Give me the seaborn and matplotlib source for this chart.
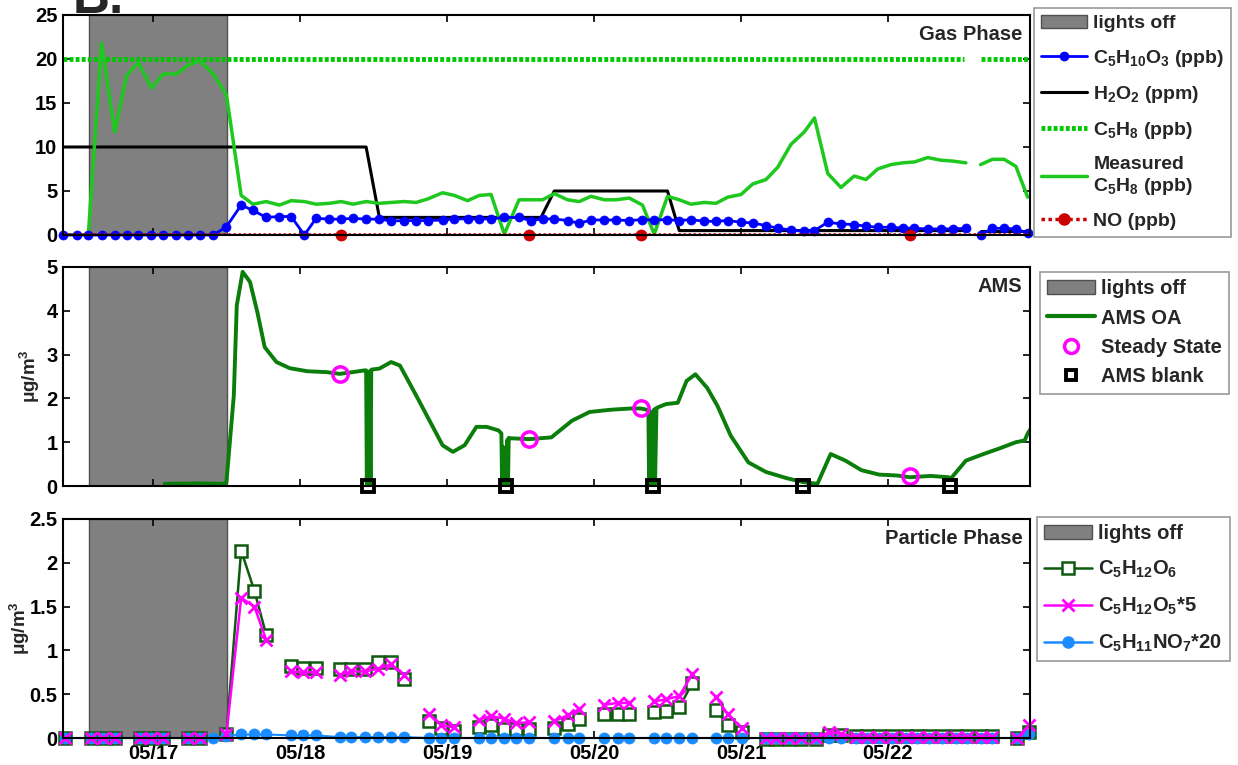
import numpy as np
import pandas as pd
import seaborn as sns
import matplotlib.pyplot as plt
from matplotlib.lines import Line2D
from matplotlib.patches import Patch
from matplotlib.ticker import FormatStrFormatter

sns.set_theme(style='ticks')
plt.rcParams['font.family'] = ['Liberation Sans', 'DejaVu Sans']
plt.rcParams['font.weight'] = 'bold'
plt.rcParams['axes.labelweight'] = 'bold'
plt.rcParams['mathtext.fontset'] = 'custom'
plt.rcParams['mathtext.rm'] = 'Liberation Sans:bold'
plt.rcParams['mathtext.bf'] = 'Liberation Sans:bold'
plt.rcParams['mathtext.it'] = 'Liberation Sans:bold'
plt.rcParams['mathtext.default'] = 'bf'

nan = np.nan

# time axis: day of May
lights_off = (16.565, 17.503)
day_ticks = [17, 18, 19, 20, 21, 22]
day_labels = ['05/17', '05/18', '05/19', '05/20', '05/21', '05/22']

# ---- gas phase (2-hourly) ----
t_gas = [16.39, 16.48, 16.56, 16.65, 16.74, 16.82, 16.90, 16.99, 17.07, 17.16,
         17.24, 17.32, 17.41, 17.50, 17.60, 17.68, 17.77, 17.86, 17.94, 18.03,
         18.11, 18.20, 18.28, 18.36, 18.45, 18.54, 18.62, 18.71, 18.79, 18.87,
         18.97, 19.05, 19.14, 19.22, 19.30, 19.39, 19.49, 19.57, 19.65, 19.73,
         19.82, 19.90, 19.98, 20.07, 20.15, 20.24, 20.33, 20.41, 20.50, 20.58,
         20.66, 20.75, 20.83, 20.91, 21.00, 21.08, 21.17, 21.25, 21.34, 21.43,
         21.50, 21.59, 21.68, 21.77, 21.85, 21.93, 22.02, 22.10, 22.18, 22.27,
         22.36, 22.44, 22.53, 22.58, 22.63, 22.71, 22.79, 22.87, 22.95]
c5h8_meas = [0, 0, 0, 21.8, 11.7, 18.1, 19.6, 16.7, 18.3, 18.3,
             19.3, 19.8, 18.3, 15.9, 4.5, 3.5, 3.8, 3.4, 3.9, 3.8,
             3.5, 3.6, 3.8, 3.5, 3.8, 3.6, 3.7, 3.8, 3.7, 4.1,
             4.8, 4.5, 3.9, 4.5, 4.6, 0.1, 4.0, 4.0, 4.0, 4.7,
             4.0, 3.8, 4.4, 4.0, 4.0, 4.2, 3.4, 0.1, 4.4, 4.0,
             3.5, 3.7, 3.6, 4.3, 4.6, 5.8, 6.3, 7.7, 10.3, 11.7,
             13.3, 7.0, 5.4, 6.7, 6.3, 7.5, 8.0, 8.2, 8.3, 8.8,
             8.5, 8.4, 8.2, nan, 8.0, 8.6, 8.6, 7.8, 4.3]
c5h10o3 = [0, 0, 0, 0, 0, 0, 0, 0, 0, 0,
           0, 0, 0, 0.95, 3.4, 2.8, 2.0, 2.1, 2.1, 0,
           1.9, 1.8, 1.8, 1.9, 1.8, 1.8, 1.6, 1.64, 1.64, 1.64,
           1.7, 1.83, 1.83, 1.83, 1.83, 2.0, 2.0, 1.64, 1.83, 1.83,
           1.64, 1.33, 1.71, 1.71, 1.71, 1.64, 1.75, 1.71, 1.75, 1.64,
           1.75, 1.56, 1.56, 1.64, 1.45, 1.37, 1.07, 0.76, 0.57, 0.42,
           0.5, 1.45, 1.26, 1.18, 1.0, 0.88, 0.88, 0.8, 0.76, 0.69,
           0.69, 0.69, 0.76, nan, 0.0, 0.76, 0.76, 0.69, 0.2]
h2o2_t = [16.39, 18.45, 18.54, 19.64, 19.73, 20.50, 20.58, 22.52, 22.58, 22.63, 22.97]
h2o2_v = [10, 10, 2, 2, 5, 5, 0.5, 0.5, nan, 0.5, 0.5]
c5h8_t = [16.39, 22.52, 22.58, 22.63, 22.97]
c5h8_v = [20, 20, nan, 20, 20]
no_t = [16.39, 22.97]
no_v = [0.15, 0.15]
no_pts_t = [18.28, 19.56, 20.32, 22.15]
no_pts_v = [0, 0, 0, 0]

# ---- AMS ----
t_ams = [17.08, 17.30, 17.49, 17.50, 17.55, 17.57, 17.61, 17.66, 17.71, 17.76,
         17.84, 17.93, 18.05, 18.18, 18.27, 18.36, 18.44,
         18.45, 18.455, 18.46, 18.465, 18.47, 18.475, 18.48, 18.485, 18.49,
         18.54, 18.62, 18.68, 18.79, 18.91, 18.97, 19.04, 19.12, 19.20, 19.27, 19.35,
         19.37, 19.375, 19.38, 19.385, 19.40, 19.41, 19.415, 19.42,
         19.43, 19.56, 19.71, 19.85, 19.97, 20.11, 20.25, 20.32, 20.36,
         20.37, 20.375, 20.385, 20.39, 20.40, 20.41, 20.415, 20.425,
         20.43, 20.49, 20.57, 20.63, 20.69, 20.77, 20.84, 20.93, 21.05, 21.17,
         21.31, 21.42, 21.52, 21.61, 21.71, 21.82, 21.94, 22.06, 22.15, 22.29,
         22.41, 22.43, 22.53, 22.65, 22.76, 22.87, 22.93, 22.95, 22.97]
ams_oa = [0.05, 0.06, 0.05, 0.1, 2.07, 4.12, 4.89, 4.66, 3.97, 3.17,
          2.83, 2.69, 2.62, 2.60, 2.56, 2.60, 2.64,
          2.64, 0, 2.6, 0, 0, 2.62, 0, 2.65, 2.66,
          2.68, 2.83, 2.75, 2.07, 1.31, 0.93, 0.78, 0.93, 1.35, 1.35, 1.27,
          1.2, 0, 0.9, 0, 0, 1.05, 0, 1.1,
          1.09, 1.07, 1.11, 1.49, 1.69, 1.74, 1.77, 1.77, 1.74,
          1.74, 0, 1.7, 0, 0, 1.75, 0, 1.78,
          1.79, 1.87, 1.90, 2.40, 2.55, 2.24, 1.83, 1.15, 0.54, 0.32,
          0.18, 0.09, 0.05, 0.73, 0.58, 0.36, 0.26, 0.24, 0.20, 0.23,
          0.20, 0.18, 0.58, 0.73, 0.86, 1.0, 1.04, 1.2, 1.3]
steady_t = [18.27, 19.56, 20.32, 22.15]
steady_v = [2.56, 1.07, 1.77, 0.22]
blank_t = [18.46, 19.40, 20.40, 21.42, 22.42]
blank_v = [0, 0, 0, 0, 0]

# ---- particle phase ----
t_pp = [16.40,
        16.58, 16.66, 16.74,
        16.91, 16.99, 17.07,
        17.24, 17.32,
        17.50, 17.60, 17.69, 17.77,
        17.94, 18.02, 18.11,
        18.27, 18.35, 18.44, 18.53, 18.62, 18.71,
        18.88, 18.96, 19.05,
        19.22, 19.30, 19.39, 19.47, 19.56,
        19.73, 19.82, 19.90,
        20.07, 20.16, 20.24,
        20.41, 20.49, 20.58, 20.67,
        20.83, 20.91, 21.01,
        21.17, 21.24, 21.33, 21.41, 21.51, 21.60, 21.68, 21.78, 21.86, 21.94,
        22.03, 22.12, 22.20, 22.28, 22.37, 22.46, 22.54, 22.63, 22.71,
        22.88, 22.96]
pp_group = [1, 2, 2, 2, 3, 3, 3, 4, 4, 5, 5, 5, 5, 6, 6, 6,
            7, 7, 7, 7, 7, 7, 8, 8, 8, 9, 9, 9, 9, 9, 10, 10, 10,
            11, 11, 11, 12, 12, 12, 12, 13, 13, 13,
            14, 14, 14, 14, 14, 14, 14, 14, 14, 14,
            14, 14, 14, 14, 14, 14, 14, 14, 14, 15, 15]
c5h12o6 = [0,
           0, 0, 0,
           0, 0, 0,
           0, 0,
           0.05, 2.14, 1.68, 1.18,
           0.82, 0.80, 0.80,
           0.79, 0.79, 0.79, 0.87, 0.87, 0.67,
           0.19, 0.11, 0.08,
           0.13, 0.15, 0.10, 0.10, 0.10,
           0.11, 0.16, 0.22,
           0.27, 0.27, 0.27,
           0.30, 0.31, 0.35, 0.63,
           0.32, 0.15, 0.07,
           -0.01, -0.01, -0.01, -0.01, -0.01, 0.03, 0.03, 0.02, 0.02, 0.02,
           0.02, 0.02, 0.02, 0.02, 0.02, 0.02, 0.02, 0.02, 0.02,
           0, 0.07]
c5h12o5_x5 = [0,
              0, 0, 0,
              0, 0, 0,
              0, 0,
              0.05, 1.60, 1.50, 1.12,
              0.76, 0.75, 0.75,
              0.72, 0.76, 0.76, 0.79, 0.84, 0.72,
              0.27, 0.15, 0.12,
              0.21, 0.25, 0.22, 0.17, 0.18,
              0.19, 0.26, 0.33,
              0.38, 0.40, 0.40,
              0.42, 0.44, 0.48, 0.73,
              0.47, 0.27, 0.11,
              0, 0, 0, 0, 0, 0.07, 0.05, 0.01, 0.01, 0.01,
              0.01, 0.01, 0.01, 0.01, 0.01, 0.01, 0.01, 0.01, 0.01,
              0, 0.15]
t_no7 = [16.40, 16.58, 16.66, 16.74, 16.91, 16.99, 17.07, 17.24, 17.32, 17.41,
         17.50, 17.60, 17.69, 17.77, 17.94, 18.02, 18.11,
         18.27, 18.35, 18.44, 18.53, 18.62, 18.71, 18.88, 18.96, 19.05,
         19.22, 19.30, 19.39, 19.47, 19.56, 19.73, 19.82, 19.90,
         20.07, 20.16, 20.24, 20.41, 20.49, 20.58, 20.67, 20.83, 20.91, 21.01,
         21.17, 21.24, 21.33, 21.41, 21.51, 21.60, 21.68, 21.78, 21.86, 21.94,
         22.03, 22.12, 22.20, 22.28, 22.37, 22.46, 22.54, 22.63, 22.71,
         22.88, 22.96]
c5h11no7_x20 = [0, 0, 0, 0, 0, 0, 0, 0, 0, 0,
                0.02, 0.04, 0.04, 0.04, 0.03, 0.03, 0.03,
                0.01, 0.01, 0.01, 0.01, 0.01, 0.01, 0, 0, 0,
                0, 0, 0, 0, 0, 0, 0, 0,
                0, 0, 0, 0, 0, 0, 0, 0, 0, 0,
                0, 0, 0, 0, 0, 0, 0, 0, 0, 0,
                0, 0, 0, 0, 0, 0, 0, 0, 0,
                0, 0.05]

GRAY = '#808080'
BLUE = '#0000ff'
MGREEN = '#1ec81e'
DGREEN = '#00c800'
AMSGREEN = '#0a7d0a'
SQGREEN = '#0e5a0e'
MAGENTA = '#ff00ff'
LBLUE = '#1a8cff'
RED = '#cc0000'


def seg_frame(t, v, group=None):
    df = pd.DataFrame({'t': t, 'v': v})
    if group is None:
        df['seg'] = df['v'].isna().cumsum()
    else:
        df['seg'] = group
    return df.dropna()


fig = plt.figure(figsize=(12.38, 7.65), dpi=100)
L, W = 63 / 1238, 967 / 1238
ax1 = fig.add_axes([L, 1 - 235 / 765, W, 220 / 765])
ax2 = fig.add_axes([L, 1 - 486 / 765, W, 219 / 765])
ax3 = fig.add_axes([L, 1 - 738 / 765, W, 219 / 765])

for ax in (ax1, ax2, ax3):
    ax.axvspan(*lights_off, facecolor=GRAY, edgecolor='#505050', lw=1, zorder=0)

# gas phase
sns.lineplot(data=seg_frame(c5h8_t, c5h8_v), x='t', y='v', units='seg', estimator=None,
             sort=False, ax=ax1, color=DGREEN, lw=3.5, linestyle=(0, (0.8, 0.45)),
             dash_capstyle='butt', legend=False)
sns.lineplot(data=seg_frame(h2o2_t, h2o2_v), x='t', y='v', units='seg', estimator=None,
             sort=False, ax=ax1, color='black', lw=2.2, legend=False)
sns.lineplot(data=seg_frame(t_gas, c5h8_meas), x='t', y='v', units='seg', estimator=None,
             sort=False, ax=ax1, color=MGREEN, lw=2.5, legend=False)
sns.lineplot(data=seg_frame(t_gas, c5h10o3), x='t', y='v', units='seg', estimator=None,
             sort=False, ax=ax1, color=BLUE, lw=2, marker='o', markersize=6.5,
             markerfacecolor=BLUE, markeredgecolor=BLUE, markeredgewidth=0.5,
             clip_on=False, legend=False)
sns.lineplot(x=no_t, y=no_v, ax=ax1, color=RED, lw=1.8, linestyle=(0, (1, 1)), legend=False)
sns.lineplot(x=no_pts_t, y=no_pts_v, ax=ax1, color=RED, linestyle='none', marker='o',
             markersize=8, markerfacecolor=RED, markeredgecolor=RED, markeredgewidth=0.5,
             clip_on=False, legend=False, zorder=5)

# AMS
sns.lineplot(x=t_ams, y=ams_oa, sort=False, estimator=None, ax=ax2, color=AMSGREEN,
             lw=2.8, legend=False)
sns.lineplot(x=steady_t, y=steady_v, ax=ax2, linestyle='none', marker='o', markersize=11,
             markerfacecolor='none', markeredgecolor=MAGENTA, markeredgewidth=2.5,
             legend=False, zorder=5)
sns.lineplot(x=blank_t, y=blank_v, ax=ax2, linestyle='none', marker='s', markersize=8.5,
             markerfacecolor='none', markeredgecolor='black', markeredgewidth=2.8,
             clip_on=False, legend=False, zorder=5)

# particle phase
sns.lineplot(data=seg_frame(t_pp, c5h12o6, pp_group), x='t', y='v', units='seg',
             estimator=None, sort=False, ax=ax3, color=SQGREEN, lw=1.8, marker='s',
             markersize=9, markerfacecolor='white', markeredgecolor=SQGREEN,
             markeredgewidth=1.8, clip_on=False, legend=False)
sns.lineplot(x=t_no7, y=c5h11no7_x20, sort=False, estimator=None, ax=ax3, color=LBLUE,
             lw=1.5, marker='o', markersize=8, markerfacecolor=LBLUE,
             markeredgecolor=LBLUE, markeredgewidth=0.5, clip_on=False, legend=False)
sns.lineplot(data=seg_frame(t_pp, c5h12o5_x5, pp_group), x='t', y='v', units='seg',
             estimator=None, sort=False, ax=ax3, color=MAGENTA, lw=1.8, marker='x',
             markersize=8, markeredgecolor=MAGENTA, markeredgewidth=2,
             clip_on=False, legend=False)

limits = [(0, 25, [0, 5, 10, 15, 20, 25]), (0, 5, [0, 1, 2, 3, 4, 5]),
          (0, 2.5, [0, 0.5, 1, 1.5, 2, 2.5])]
for ax, (lo, hi, yt) in zip((ax1, ax2, ax3), limits):
    ax.set_xlim(16.388, 22.966)
    ax.set_ylim(lo, hi)
    ax.set_yticks(yt)
    ax.yaxis.set_major_formatter(FormatStrFormatter('%g'))
    ax.set_xticks(day_ticks)
    ax.set_xticklabels(day_labels)
    ax.set_xlabel('')
    ax.set_ylabel('')
    ax.tick_params(direction='in', length=5, width=1.2, top=True, right=True,
                   labelsize=14.5, pad=4, colors='black')
    for s in ax.spines.values():
        s.set_color('black')
        s.set_linewidth(1.5)
        s.set_zorder(6)
    ax.set_facecolor('white')

ax1.tick_params(labelbottom=False)
ax2.tick_params(labelbottom=False)
ax2.set_ylabel('μg/m$^3$', fontsize=13.5, labelpad=3)
ax3.set_ylabel('μg/m$^3$', fontsize=13.5, labelpad=-2)

ax1.text(0.992, 0.955, 'Gas Phase', transform=ax1.transAxes, ha='right', va='top', fontsize=14.5)
ax2.text(0.992, 0.955, 'AMS', transform=ax2.transAxes, ha='right', va='top', fontsize=14.5)
ax3.text(0.992, 0.955, 'Particle Phase', transform=ax3.transAxes, ha='right', va='top', fontsize=14.5)

fig.text(73 / 1238, 1 - 13 / 765, 'B.', fontsize=37, fontweight='bold', va='baseline')

lights = Patch(facecolor=GRAY, edgecolor='#505050')
legkw = dict(loc='upper left', bbox_transform=fig.transFigure, frameon=True, fancybox=False,
             edgecolor=GRAY, borderaxespad=0, handletextpad=0.3, borderpad=0.35,
             handlelength=2.4)

h1 = [lights,
      Line2D([], [], color=BLUE, lw=2, marker='o', ms=6),
      Line2D([], [], color='black', lw=2.2),
      Line2D([], [], color=DGREEN, lw=3.5, linestyle=(0, (0.8, 0.45)), dash_capstyle='butt'),
      Line2D([], [], color=MGREEN, lw=2.5),
      Line2D([], [], color=RED, lw=2.5, linestyle=(0, (1, 1)), marker='o', ms=8)]
l1 = ['lights off', 'C$_5$H$_{10}$O$_3$ (ppb)', 'H$_2$O$_2$ (ppm)', 'C$_5$H$_8$ (ppb)',
      'Measured\nC$_5$H$_8$ (ppb)', 'NO (ppb)']
leg1 = ax1.legend(h1, l1, bbox_to_anchor=(1034 / 1238, 1 - 8 / 765), labelspacing=0.78,
                  prop={'weight': 'bold', 'size': 14}, **legkw)

h2 = [lights,
      Line2D([], [], color=AMSGREEN, lw=3),
      Line2D([], [], color=MAGENTA, ls='none', marker='o', ms=10, mfc='none', mew=2.5),
      Line2D([], [], color='black', ls='none', marker='s', ms=7.5, mfc='none', mew=2.8)]
l2 = ['lights off', 'AMS OA', 'Steady State', 'AMS blank']
leg2 = ax2.legend(h2, l2, bbox_to_anchor=(1040 / 1238, 1 - 272 / 765), labelspacing=0.52,
                  prop={'weight': 'bold', 'size': 14.5}, **legkw)

h3 = [lights,
      Line2D([], [], color=SQGREEN, lw=1.8, marker='s', ms=9, mfc='white', mew=1.8),
      Line2D([], [], color=MAGENTA, lw=1.8, marker='x', ms=8, mew=2),
      Line2D([], [], color=LBLUE, lw=1.8, marker='o', ms=8)]
l3 = ['lights off', 'C$_5$H$_{12}$O$_6$', 'C$_5$H$_{12}$O$_5$*5', 'C$_5$H$_{11}$NO$_7$*20']
leg3 = ax3.legend(h3, l3, bbox_to_anchor=(1037 / 1238, 1 - 517 / 765), labelspacing=0.78,
                  prop={'weight': 'bold', 'size': 14.5}, **legkw)

for leg in (leg1, leg2, leg3):
    leg.get_frame().set_linewidth(1.2)

fig.savefig('out.png', dpi=100)
